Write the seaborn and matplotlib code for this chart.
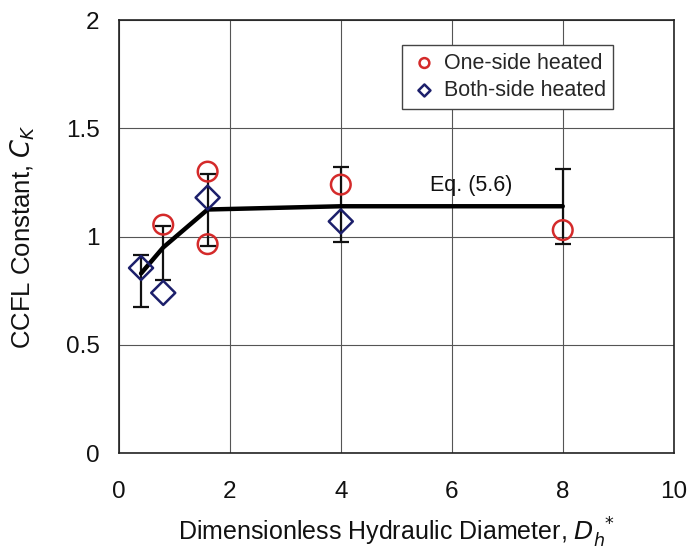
import matplotlib
matplotlib.use("Agg")
import matplotlib.pyplot as plt
import seaborn as sns
import pandas as pd

# Data
one_x = [0.8, 1.6, 1.6, 4.0, 8.0]
one_y = [1.055, 1.30, 0.965, 1.24, 1.03]
both_x = [0.4, 0.8, 1.6, 4.0]
both_y = [0.855, 0.74, 1.18, 1.07]
eq_x = [0.4, 0.8, 1.6, 4.0, 8.0]
eq_y = [0.83, 0.95, 1.125, 1.14, 1.14]
err_x = [0.4, 0.8, 1.6, 4.0, 8.0]
err_lo = [0.675, 0.80, 0.955, 0.975, 0.965]
err_hi = [0.915, 1.05, 1.29, 1.32, 1.31]

sns.set_theme(style="white")
plt.rcParams['font.family'] = ['Liberation Sans', 'DejaVu Sans']

fig = plt.figure(figsize=(6.91, 5.56), dpi=100)
ax = fig.add_axes([0.172, 0.185, 0.803, 0.779])

# error bars
for x, lo, hi in zip(err_x, err_lo, err_hi):
    ax.errorbar([x], [(lo + hi) / 2], yerr=[[(hi - lo) / 2], [(hi - lo) / 2]],
                fmt='none', ecolor='#111111', elinewidth=1.6, capsize=6, capthick=1.6, zorder=3)

eq_df = pd.DataFrame({'x': eq_x, 'y': eq_y})
sns.lineplot(data=eq_df, x='x', y='y', color='black', linewidth=3.2, ax=ax, zorder=4, sort=False)

ax.scatter(one_x, one_y, s=200, facecolors='none', edgecolors='#d42a2a', linewidths=1.8,
           zorder=5, label='One-side heated')
ax.scatter(both_x, both_y, marker='D', s=150, facecolors='none', edgecolors='#1c1f6b', linewidths=1.8,
           zorder=5, label='Both-side heated')

ax.set_xlim(0, 10)
ax.set_ylim(0, 2)
ax.set_xticks([0, 2, 4, 6, 8, 10])
ax.set_yticks([0, 0.5, 1, 1.5, 2])
ax.set_yticklabels(['0', '0.5', '1', '1.5', '2'])
ax.grid(True, color='#555555', linewidth=0.8)
for s in ax.spines.values():
    s.set_color('#222222')
    s.set_linewidth(1.2)
ax.tick_params(axis='both', labelsize=17.5, colors='#111111', length=0)
ax.tick_params(axis='x', pad=20)
ax.tick_params(axis='y', pad=14)

ax.set_xlabel(r'Dimensionless Hydraulic Diameter, $D_h^{\ *}$', fontsize=18, color='#111111')
ax.set_ylabel(r'CCFL Constant, $C_K$', fontsize=18.5, color='#111111')
ax.xaxis.set_label_coords(0.5, -0.145)
ax.yaxis.set_label_coords(-0.148, 0.5)

ax.text(6.35, 1.235, 'Eq. (5.6)', fontsize=15.5, ha='center', va='center', color='#111111')

leg = ax.legend(loc='upper left', bbox_to_anchor=(0.51, 0.942), borderaxespad=0, fontsize=15.5,
                frameon=True, fancybox=False, framealpha=1, edgecolor='#444444', handletextpad=0.2,
                borderpad=0.35, labelspacing=0.3, markerscale=0.5, handlelength=1.4)
leg.get_frame().set_linewidth(1.0)

fig.savefig('out.png', dpi=100)
